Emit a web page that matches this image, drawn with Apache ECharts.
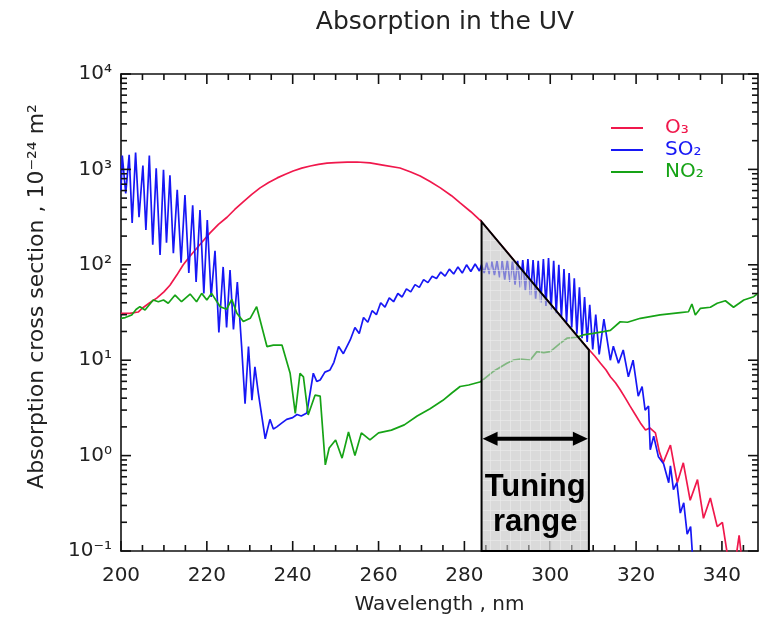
<!DOCTYPE html>
<html>
<head>
<meta charset="utf-8">
<title>Absorption in the UV</title>
<script src="https://cdn.jsdelivr.net/npm/echarts@6/dist/echarts.min.js"></script>
<style>
html, body { margin: 0; padding: 0; background: #fff; }
#chart { width: 761px; height: 618px; }
</style>
</head>
<body>
<div id="chart"></div>
<script>
// axis ranges
var X_MIN = 200, X_MAX = 348.4, Y_MIN = 0.1, Y_MAX = 10000;

// tick labels
var xTickLabels = [200, 220, 240, 260, 280, 300, 320, 340];
var yTickLabels = ['10\u207b\u00b9', '10\u2070', '10\u00b9', '10\u00b2', '10\u00b3', '10\u2074'];

// wavelength (nm), cross section (1e-24 m2)
var o3Data = [
    [200, 31], [202, 31], [204, 32], [205.1, 35.5], [206.7, 40], [208.4, 45], [210, 52], [211.4, 61],
    [213, 78], [214.5, 100], [216, 122], [217.7, 150], [219.2, 180], [220.7, 215], [222.7, 265],
    [224.7, 315], [226.5, 380], [228.4, 455], [230.4, 545], [232.4, 640], [234.4, 730], [236.4, 815],
    [238.3, 890], [240.1, 962], [242.1, 1030], [244.1, 1085], [246, 1130], [248, 1165], [250, 1180],
    [252.7, 1190], [255, 1195], [258, 1170], [261, 1110], [265, 1035], [267.5, 940], [269.7, 853],
    [272, 745], [274.4, 640], [277, 530], [279, 445], [281.5, 360], [284, 283], [286, 221], [288, 172],
    [290, 135], [292, 105], [294, 82], [296, 64], [298, 50], [300, 39], [302, 30.5], [304, 23.5],
    [306, 18.5], [308, 14.5], [309.1, 12.8], [310.4, 11], [311.7, 9.3], [313, 7.9], [314, 6.7],
    [315.2, 5.8], [316.3, 4.9], [317.5, 4.0], [318.6, 3.3], [319.8, 2.7], [321, 2.2], [322.2, 1.85],
    [323.2, 1.95], [324.5, 1.73], [325.4, 1.1], [326.3, 0.84], [328, 1.29], [329.6, 0.52], [331, 0.84],
    [332.6, 0.34], [334.3, 0.56], [335.7, 0.22], [337.3, 0.36], [338.9, 0.18], [340.1, 0.2],
    [341.3, 0.09], [343, 0.07], [344, 0.146], [344.8, 0.07], [348.4, 0.05]
];

var so2Data = [
    [200, 600], [200.3, 1400], [201.1, 560], [201.9, 1420], [202.6, 275], [203.4, 1500], [204.2, 315],
    [205.1, 1100], [205.8, 232], [206.6, 1400], [207.4, 162], [208.2, 1030], [209.1, 127], [209.9, 990],
    [210.6, 170], [211.4, 870], [212.2, 132], [213.1, 610], [214, 105], [214.9, 540], [215.8, 82],
    [216.7, 420], [217.5, 66], [218.4, 375], [219.3, 50], [220.1, 295], [221, 46], [221.9, 140],
    [222.8, 19.5], [223.8, 95], [224.6, 22], [225.4, 88], [226.2, 21], [227.1, 66], [228.1, 14],
    [228.9, 3.5], [229.7, 13.9], [230.5, 3.8], [231.2, 8.5], [232, 4.5], [232.8, 2.6], [233.6, 1.5],
    [234.7, 2.4], [235.5, 1.9], [236.3, 2.0], [237.5, 2.2], [238.6, 2.4], [240, 2.5], [241, 2.7],
    [242, 2.6], [243.3, 2.8], [244.8, 7.3], [245.6, 6.0], [246.4, 6.2], [247.5, 7.5], [248.7, 7.9],
    [249.6, 9.5], [250.7, 13.9], [251.8, 11.7], [253.4, 16.3], [254.5, 22], [255.5, 19], [256.5, 28],
    [257.5, 25], [258.5, 33], [259.5, 30], [260.5, 40], [261.5, 36], [262.5, 45], [263.5, 41],
    [264.5, 50], [265.5, 46], [266.5, 56], [267.5, 52], [268.5, 62], [269.5, 58], [270.5, 70],
    [271.5, 65], [272.5, 76], [273.5, 72], [274.5, 84], [275.5, 76], [276.5, 90], [277.5, 80],
    [278.5, 95], [279.5, 82], [280.5, 100], [281.5, 85], [282.5, 102], [283.5, 86],
    [284, 100], [284.6, 82], [285.2, 105], [285.8, 80], [286.4, 108], [287, 78], [287.6, 110],
    [288.2, 74], [288.8, 110], [289.4, 70], [290, 112], [290.6, 66], [291.2, 108], [291.8, 62],
    [292.4, 110], [293, 58], [293.6, 112], [294.2, 54], [294.8, 115], [295.4, 48], [296, 112],
    [296.6, 44], [297.2, 110], [297.8, 40], [298.4, 115], [299, 37], [299.6, 118], [300.2, 34],
    [300.8, 110], [301.4, 31], [302, 100], [302.6, 28], [303.2, 90], [303.8, 25], [304.4, 82],
    [305, 22], [305.6, 72], [306.2, 19], [306.8, 58], [307.4, 17], [308, 46], [308.6, 15.5],
    [309.2, 38], [309.9, 13], [310.6, 30], [311.4, 11.5], [312.5, 27], [314, 10], [314.7, 14],
    [315.9, 9.3], [317, 12.8], [318.2, 6.7], [319.3, 10], [320.5, 4.2], [321.4, 5.3], [322.1, 3.0],
    [322.9, 3.3], [323.3, 1.15], [324.1, 1.6], [325.2, 0.97], [326.4, 0.82], [327.6, 0.52],
    [328, 0.78], [328.7, 0.44], [329.5, 0.52], [330.3, 0.25], [331.1, 0.32], [331.9, 0.15],
    [332.7, 0.18], [333.3, 0.07]
];

var no2Data = [
    [200, 27.5], [201, 28], [202.5, 29.8], [203.5, 34], [204.4, 36.4], [205.6, 33.6], [207.5, 42.8],
    [208.7, 41], [209.9, 42.8], [211, 39.5], [212.6, 48.2], [214.1, 41], [216.1, 49.4], [217.6, 41],
    [218.8, 50.2], [220, 42.8], [221.1, 50.2], [223.1, 36.4], [224.6, 34.2], [225.8, 43.5], [227, 31],
    [228.5, 25.4], [230.1, 27.5], [231.6, 36.4], [234, 13.9], [235.5, 14.4], [237.5, 14.4],
    [239.4, 7.3], [240.6, 2.77], [241.7, 7.3], [242.5, 6.7], [243.6, 2.67], [245.2, 4.3],
    [246.4, 4.2], [247.6, 0.8], [248.5, 1.2], [250, 1.46], [251.5, 0.94], [253, 1.77], [254.5, 1.0],
    [256, 1.73], [258, 1.46], [260, 1.73], [263, 1.85], [266, 2.1], [269, 2.6], [272, 3.1],
    [275, 3.8], [277, 4.5], [279, 5.3], [281, 5.5], [283.8, 5.95], [286.7, 7.6], [289.9, 9.3],
    [291.4, 10], [293, 10.3], [295.3, 10], [296.9, 12.3], [298.5, 12], [300, 12.3], [302.3, 15],
    [303.9, 17], [306.2, 17.4], [307.7, 18.4], [310, 19.1], [312.4, 19.9], [314, 20.5], [316.3, 25.3],
    [318, 25], [321, 27.5], [325.6, 29.8], [330.3, 31.5], [332.2, 32.2], [333, 38.8], [333.8, 29.8],
    [335, 35], [337.3, 35.9], [338.9, 39.5], [340.8, 42], [342.7, 35.9], [345.1, 42.8],
    [347.4, 46.3], [348.4, 50.2]
];

// tuning range: left/right wavelength and top of the shaded band
var tuningX = [284, 309];
var tuningTop = [283, 12.8];

var O3_COLOR = '#f0184c', SO2_COLOR = '#1717f5', NO2_COLOR = '#16a316';
var FONT = 'DejaVu Sans';
var ARROW_Y = 1.5, TEXT1_Y = 0.46, TEXT2_Y = 0.2;
var axisColor = '#111';

// tick positions (drawn by custom series through the axes' scales)
var xTicks = [];
for (var t = X_MIN; t <= X_MAX; t += 5) {
    xTicks.push([t, Y_MIN]);
}
var yTicks = [];
for (var d = -1; d < 4; d++) {
    for (var k = 1; k <= 9; k++) {
        yTicks.push([X_MIN, k * Math.pow(10, d)]);
    }
}
yTicks.push([X_MIN, Y_MAX]);

var makePattern = function () {
    var c = document.createElement('canvas'),
        g;
    c.width = 10;
    c.height = 10;
    g = c.getContext('2d');
    g.fillStyle = 'rgba(196,196,196,0.62)';
    g.fillRect(0, 0, 10, 10);
    g.fillStyle = 'rgba(236,236,236,0.62)';
    g.fillRect(0, 0, 10, 1);
    g.fillRect(0, 0, 1, 10);
    return c;
};
var pattern = makePattern();

var xAxisBase = function (pos, showLabel) {
    return {
        type: 'value',
        position: pos,
        min: X_MIN,
        max: X_MAX,
        interval: 20,
        axisLine: { show: true, onZero: false, lineStyle: { color: axisColor, width: 1.6 } },
        axisTick: { show: false },
        axisLabel: {
            show: showLabel,
            margin: 15,
            fontFamily: FONT,
            fontSize: 20,
            color: '#222',
            formatter: function (v) {
                return xTickLabels.indexOf(v) >= 0 ? String(v) : '';
            }
        },
        splitLine: { show: false }
    };
};

var yAxisBase = function (pos, showLabel) {
    return {
        type: 'log',
        logBase: 10,
        position: pos,
        min: Y_MIN,
        max: Y_MAX,
        axisLine: { show: true, onZero: false, lineStyle: { color: axisColor, width: 1.6 } },
        axisTick: { show: false },
        axisLabel: {
            show: showLabel,
            margin: 9,
            fontFamily: FONT,
            fontSize: 20,
            color: '#222',
            formatter: function (v) {
                var e = Math.round(Math.log10(v));
                return yTickLabels[e + 1] || '';
            }
        },
        splitLine: { show: false }
    };
};

var xAxes = [xAxisBase('bottom', true), xAxisBase('top', false)];
xAxes[0].name = 'Wavelength , nm';
xAxes[0].nameLocation = 'middle';
xAxes[0].nameGap = 44;
xAxes[0].nameTextStyle = { fontFamily: FONT, fontSize: 20, color: '#222' };

var yAxes = [yAxisBase('left', true), yAxisBase('right', false)];
yAxes[0].name = 'Absorption cross section , 10\u207b\u00b2\u2074 m\u00b2';
yAxes[0].nameLocation = 'middle';
yAxes[0].nameRotate = 90;
yAxes[0].nameGap = 73;
yAxes[0].nameTextStyle = { fontFamily: FONT, fontSize: 22, color: '#222', padding: [0, 0, 0, 32] };

var lineSeries = function (name, color, data) {
    return {
        type: 'line',
        name: name,
        data: data,
        xAxisIndex: 0,
        yAxisIndex: 0,
        symbol: 'none',
        showSymbol: false,
        lineStyle: { color: color, width: 1.7 },
        itemStyle: { color: color },
        z: 2
    };
};

var tickLine = function (x1, y1, x2, y2) {
    return { type: 'line', shape: { x1: x1, y1: y1, x2: x2, y2: y2 }, style: { stroke: axisColor, lineWidth: 1.6 } };
};

var option = {
    animation: false,
    backgroundColor: '#fff',
    title: {
        text: 'Absorption in the UV',
        left: 440,
        textAlign: 'center',
        top: 5,
        textStyle: { fontFamily: FONT, fontSize: 25, fontWeight: 'normal', color: '#222' }
    },
    legend: {
        orient: 'vertical',
        left: 606,
        top: 113,
        itemWidth: 32,
        itemHeight: 2,
        itemGap: 2,
        icon: 'rect',
        textStyle: { fontFamily: FONT, fontSize: 20, padding: [0, 0, 0, 17] },
        data: [
            { name: 'O\u2083', textStyle: { color: O3_COLOR } },
            { name: 'SO\u2082', textStyle: { color: SO2_COLOR } },
            { name: 'NO\u2082', textStyle: { color: NO2_COLOR } }
        ]
    },
    grid: { left: 121, right: 3, top: 74, bottom: 67, containLabel: false, outerBoundsMode: 'none' },
    xAxis: xAxes,
    yAxis: yAxes,
    series: [
        lineSeries('O\u2083', O3_COLOR, o3Data),
        lineSeries('SO\u2082', SO2_COLOR, so2Data),
        lineSeries('NO\u2082', NO2_COLOR, no2Data),
        {
            type: 'custom',
            name: 'xTicks',
            silent: true,
            z: 4,
            data: xTicks,
            renderItem: function (params, api) {
                var x = api.value(0),
                    len = (x % 20 === 0) ? 10 : 6,
                    b = api.coord([x, Y_MIN]),
                    tp = api.coord([x, Y_MAX]);
                return {
                    type: 'group',
                    children: [tickLine(b[0], b[1], b[0], b[1] - len), tickLine(tp[0], tp[1], tp[0], tp[1] + len)]
                };
            }
        },
        {
            type: 'custom',
            name: 'yTicks',
            silent: true,
            z: 4,
            data: yTicks,
            renderItem: function (params, api) {
                var v = api.value(1),
                    e = Math.log10(v),
                    len = Math.abs(e - Math.round(e)) < 1e-6 ? 10 : 6,
                    l = api.coord([X_MIN, v]),
                    r = api.coord([X_MAX, v]);
                return {
                    type: 'group',
                    children: [tickLine(l[0], l[1], l[0] + len, l[1]), tickLine(r[0] - len, r[1], r[0], r[1])]
                };
            }
        },
        {
            type: 'custom',
            name: 'tuning',
            silent: true,
            z: 5,
            data: [[tuningX[0], tuningTop[0], tuningX[1], tuningTop[1]]],
            encode: { x: [0, 2], y: [1, 3] },
            renderItem: function (params, api) {
                var bl = api.coord([api.value(0), Y_MIN]),
                    tl = api.coord([api.value(0), api.value(1)]),
                    tr = api.coord([api.value(2), api.value(3)]),
                    br = api.coord([api.value(2), Y_MIN]),
                    ay = api.coord([api.value(0), ARROW_Y])[1],
                    t1 = api.coord([api.value(0), TEXT1_Y])[1],
                    t2 = api.coord([api.value(0), TEXT2_Y])[1],
                    cx = (tl[0] + tr[0]) / 2,
                    x0 = tl[0] + 1,
                    x1 = tr[0] - 1,
                    head = 15;
                return {
                    type: 'group',
                    children: [
                        {
                            type: 'polygon',
                            shape: { points: [bl, tl, tr, br] },
                            style: { fill: { image: pattern, repeat: 'repeat' }, stroke: '#000', lineWidth: 2 }
                        },
                        { type: 'line', shape: { x1: x0 + head - 2, y1: ay, x2: x1 - head + 2, y2: ay }, style: { stroke: '#000', lineWidth: 4 } },
                        { type: 'polygon', shape: { points: [[x0, ay], [x0 + head, ay - 7], [x0 + head, ay + 7]] }, style: { fill: '#000' } },
                        { type: 'polygon', shape: { points: [[x1, ay], [x1 - head, ay - 7], [x1 - head, ay + 7]] }, style: { fill: '#000' } },
                        {
                            type: 'text', x: cx, y: t1,
                            style: { text: 'Tuning', fill: '#000', font: 'bold 31px "Liberation Sans", Arial, sans-serif', align: 'center', verticalAlign: 'middle' }
                        },
                        {
                            type: 'text', x: cx, y: t2,
                            style: { text: 'range', fill: '#000', font: 'bold 31px "Liberation Sans", Arial, sans-serif', align: 'center', verticalAlign: 'middle' }
                        }
                    ]
                };
            }
        }
    ]
};

var myChart = echarts.init(document.getElementById('chart'), null, { renderer: 'canvas' });
myChart.setOption(option);
</script>
</body>
</html>
